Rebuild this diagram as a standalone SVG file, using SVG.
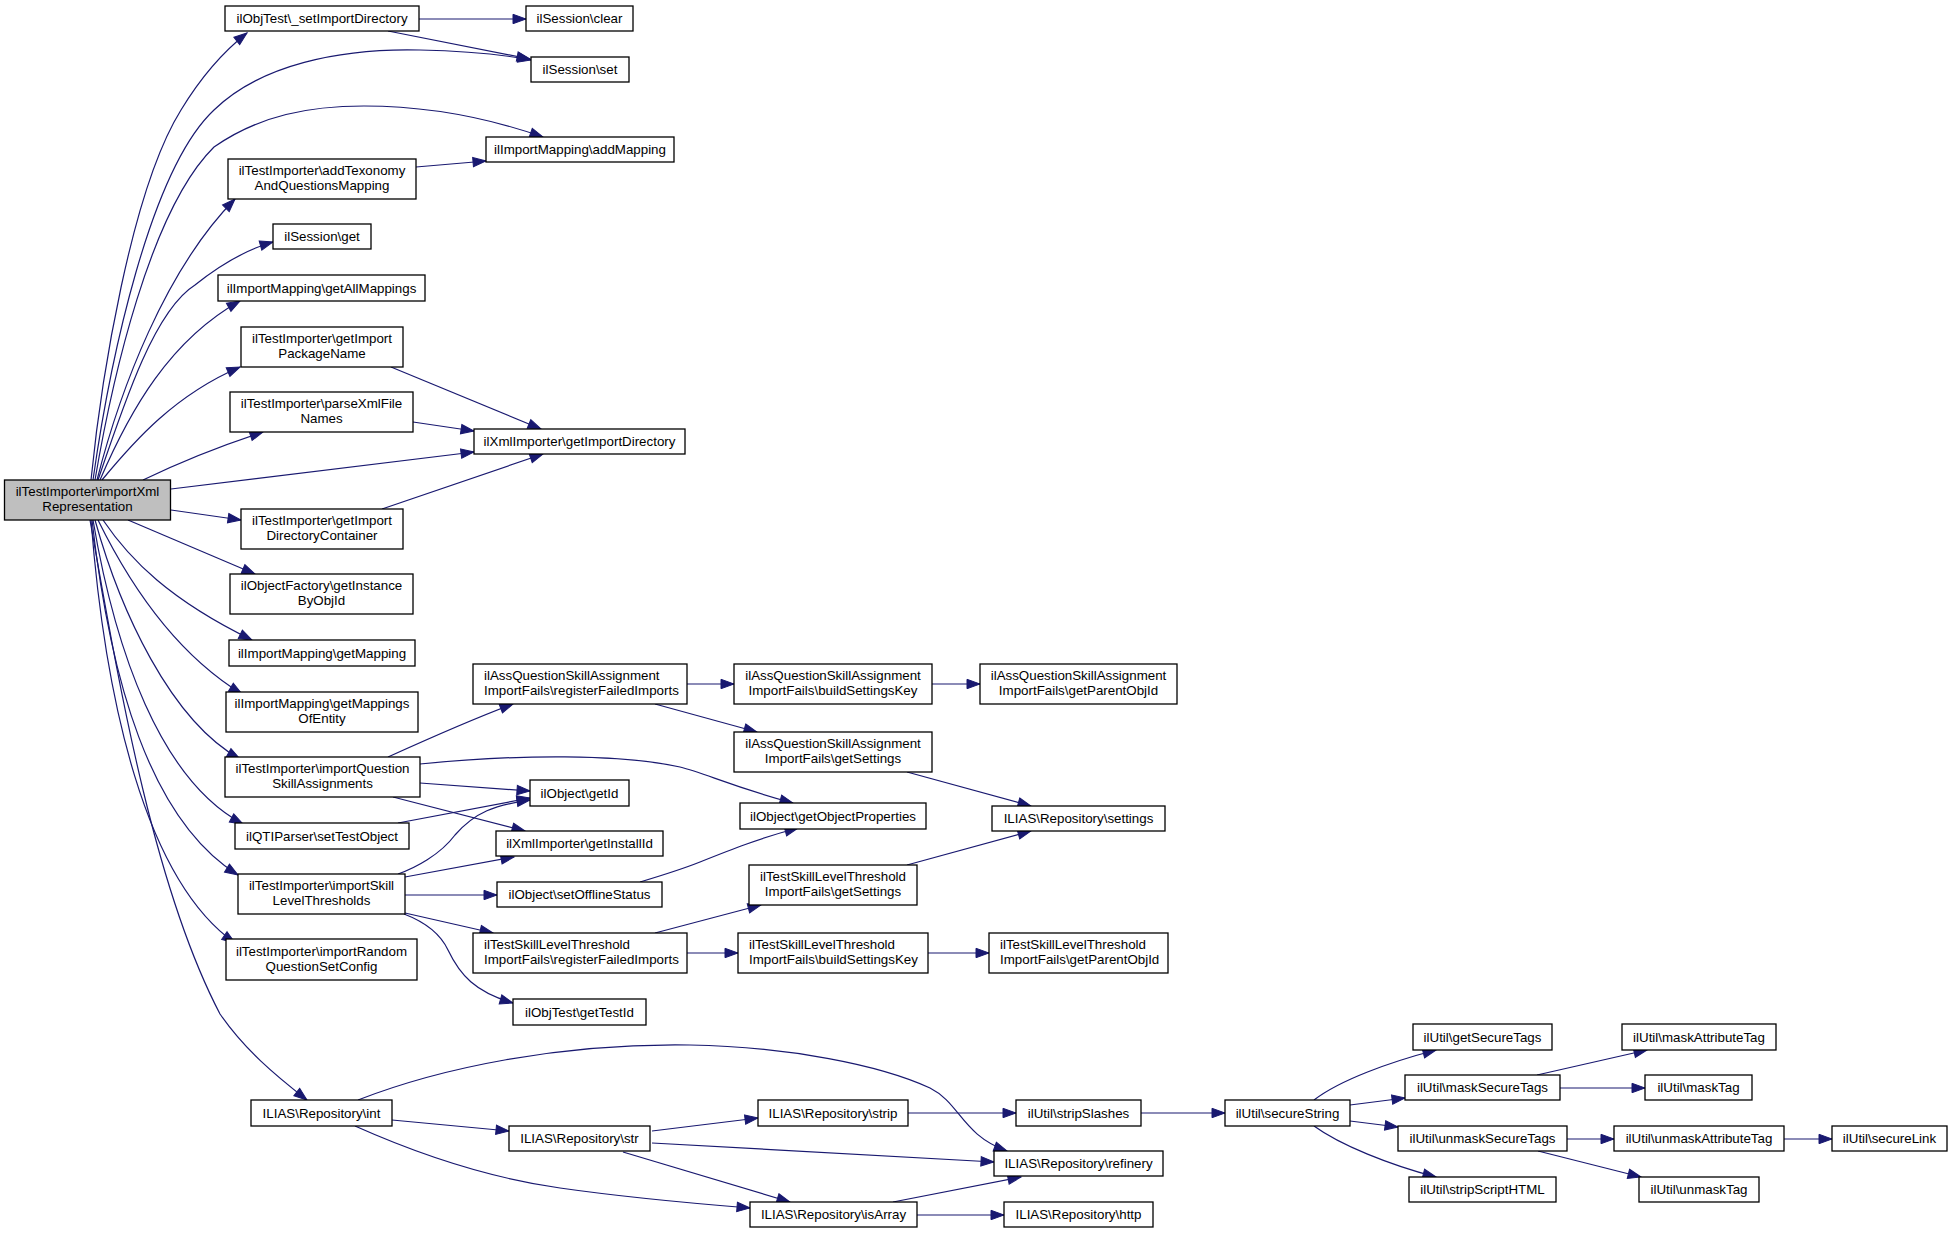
<svg xmlns="http://www.w3.org/2000/svg" width="1952" height="1233" viewBox="0 0 1952 1233">
<style>
.n rect{fill:#ffffff;stroke:#000000;stroke-width:1.3}
.n.main rect{fill:#bfbfbf}
text{font-family:"Liberation Sans",Arial,Helvetica,sans-serif;font-size:13.33px;fill:#000000}
.c{text-anchor:middle}
.l{text-anchor:start}
#edges path{fill:none;stroke:#191970;stroke-width:1.2;marker-end:url(#arr)}
</style>
<defs>
<marker id="arr" markerUnits="userSpaceOnUse" markerWidth="14" markerHeight="10" refX="13" refY="5" orient="auto" overflow="visible">
<path d="M0,0.3 L13,5 L0,9.7 Z" fill="#191970" stroke="#191970" stroke-width="1"/>
</marker>
</defs>
<rect width="1952" height="1233" fill="#ffffff"/>
<g id="edges">
<path d="M91,480 C101,380 131,190 181,110 C198,82 219,55 247,33"/>
<path d="M93,480 C110,360 150,170 214,110 C260,65 340,48 420,50 C470,51 505,55 531,60"/>
<path d="M95,480 C112,380 150,210 214,147 C260,115 310,106 364,106 C420,106 480,115 543,137"/>
<path d="M97,480 C120,390 165,270 235,199"/>
<path d="M98,480 C125,400 155,310 195,285 C220,265 245,250 273,242"/>
<path d="M100,480 C130,410 170,340 240,301"/>
<path d="M102,480 C135,440 175,395 240,367"/>
<path d="M143,480 C180,462 220,446 263,432"/>
<path d="M171,489 L474,452"/>
<path d="M171,510 L241,520"/>
<path d="M128,520 L255,574"/>
<path d="M103,520 C130,560 170,600 252,640"/>
<path d="M98,520 C125,575 170,650 242,694"/>
<path d="M95,520 C120,610 170,720 240,759"/>
<path d="M93,520 C115,650 160,780 243,824"/>
<path d="M92,520 C110,680 150,820 238,875"/>
<path d="M91,520 C105,700 145,880 235,943"/>
<path d="M90,520 C115,660 150,880 220,1014 C245,1050 275,1075 307,1100"/>
<path d="M419,19 L526,19"/>
<path d="M388,31 L530,59"/>
<path d="M416,167 L486,161"/>
<path d="M391,367 L541,429"/>
<path d="M413,422 L474,431"/>
<path d="M382,509 L543,454"/>
<path d="M388,757 C430,738 470,720 513,704"/>
<path d="M420,764 C520,754 620,754 680,767 C705,773 730,786 793,803"/>
<path d="M420,783 L530,791"/>
<path d="M393,797 L525,831"/>
<path d="M398,823 L530,798"/>
<path d="M398,874 C415,868 440,855 455,835 C475,812 495,805 530,800"/>
<path d="M405,877 L514,857"/>
<path d="M405,895 L497,895"/>
<path d="M405,913 L493,933"/>
<path d="M404,914 C425,922 440,933 448,950 C460,975 475,992 513,1003"/>
<path d="M640,882 C660,876 680,870 700,862 C730,850 760,838 798,828"/>
<path d="M687,684 L734,684"/>
<path d="M655,704 L757,732"/>
<path d="M932,684 L980,684"/>
<path d="M907,772 L1031,806"/>
<path d="M907,865 L1031,831"/>
<path d="M655,933 L761,905"/>
<path d="M687,953 L738,953"/>
<path d="M928,953 L989,953"/>
<path d="M358,1100 C440,1068 560,1043 690,1045 C790,1047 880,1065 930,1088 C960,1103 962,1135 1007,1151"/>
<path d="M392,1120 L509,1131"/>
<path d="M355,1126 C420,1155 490,1178 560,1188 C630,1198 700,1204 750,1208"/>
<path d="M652,1131 L758,1118"/>
<path d="M652,1143 L994,1162"/>
<path d="M623,1152 L790,1202"/>
<path d="M893,1202 L1021,1177"/>
<path d="M917,1215 L1004,1215"/>
<path d="M908,1113 L1016,1113"/>
<path d="M1141,1113 L1225,1113"/>
<path d="M1314,1100 C1340,1080 1390,1062 1436,1050"/>
<path d="M1350,1105 L1405,1098"/>
<path d="M1350,1121 L1398,1127"/>
<path d="M1314,1126 C1340,1145 1390,1165 1436,1177"/>
<path d="M1537,1075 L1647,1050"/>
<path d="M1560,1088 L1645,1088"/>
<path d="M1567,1139 L1614,1139"/>
<path d="M1538,1151 L1641,1177"/>
<path d="M1784,1139 L1832,1139"/>
</g>
<g id="n0" class="n main"><rect x="4.5" y="480" width="166" height="40"/><text class="c" x="87.5" y="496.4">ilTestImporter\importXml</text><text class="c" x="87.5" y="511.4">Representation</text></g>
<g id="n1" class="n"><rect x="225" y="6" width="194" height="25"/><text class="c" x="322" y="23.2">ilObjTest\_setImportDirectory</text></g>
<g id="n2" class="n"><rect x="526" y="6" width="107" height="25"/><text class="c" x="579.5" y="23.2">ilSession\clear</text></g>
<g id="n3" class="n"><rect x="531" y="57" width="98" height="25"/><text class="c" x="580" y="74.2">ilSession\set</text></g>
<g id="n4" class="n"><rect x="486" y="137" width="188" height="25"/><text class="c" x="580" y="154.2">ilImportMapping\addMapping</text></g>
<g id="n5" class="n"><rect x="228" y="159" width="188" height="40"/><text class="c" x="322" y="175.4">ilTestImporter\addTexonomy</text><text class="c" x="322" y="190.4">AndQuestionsMapping</text></g>
<g id="n6" class="n"><rect x="273" y="224" width="98" height="25"/><text class="c" x="322" y="241.2">ilSession\get</text></g>
<g id="n7" class="n"><rect x="218" y="275" width="207" height="26"/><text class="c" x="321.5" y="292.7">ilImportMapping\getAllMappings</text></g>
<g id="n8" class="n"><rect x="241" y="327" width="162" height="40"/><text class="c" x="322" y="343.4">ilTestImporter\getImport</text><text class="c" x="322" y="358.4">PackageName</text></g>
<g id="n9" class="n"><rect x="230" y="392" width="183" height="40"/><text class="c" x="321.5" y="408.4">ilTestImporter\parseXmlFile</text><text class="c" x="321.5" y="423.4">Names</text></g>
<g id="n10" class="n"><rect x="474" y="429" width="211" height="25"/><text class="c" x="579.5" y="446.2">ilXmlImporter\getImportDirectory</text></g>
<g id="n11" class="n"><rect x="241" y="509" width="162" height="40"/><text class="c" x="322" y="525.4">ilTestImporter\getImport</text><text class="c" x="322" y="540.4">DirectoryContainer</text></g>
<g id="n12" class="n"><rect x="230" y="574" width="183" height="40"/><text class="c" x="321.5" y="590.4">ilObjectFactory\getInstance</text><text class="c" x="321.5" y="605.4">ByObjId</text></g>
<g id="n13" class="n"><rect x="229" y="640" width="186" height="26"/><text class="c" x="322" y="657.7">ilImportMapping\getMapping</text></g>
<g id="n14" class="n"><rect x="226" y="692" width="192" height="40"/><text class="c" x="322" y="708.4">ilImportMapping\getMappings</text><text class="c" x="322" y="723.4">OfEntity</text></g>
<g id="n15" class="n"><rect x="473" y="664" width="214" height="40"/><text class="l" x="484" y="680.4">ilAssQuestionSkillAssignment</text><text class="l" x="484" y="695.4">ImportFails\registerFailedImports</text></g>
<g id="n16" class="n"><rect x="734" y="664" width="198" height="40"/><text class="c" x="833" y="680.4">ilAssQuestionSkillAssignment</text><text class="c" x="833" y="695.4">ImportFails\buildSettingsKey</text></g>
<g id="n17" class="n"><rect x="980" y="664" width="197" height="40"/><text class="c" x="1078.5" y="680.4">ilAssQuestionSkillAssignment</text><text class="c" x="1078.5" y="695.4">ImportFails\getParentObjId</text></g>
<g id="n18" class="n"><rect x="734" y="732" width="198" height="40"/><text class="c" x="833" y="748.4">ilAssQuestionSkillAssignment</text><text class="c" x="833" y="763.4">ImportFails\getSettings</text></g>
<g id="n19" class="n"><rect x="225" y="757" width="195" height="40"/><text class="c" x="322.5" y="773.4">ilTestImporter\importQuestion</text><text class="c" x="322.5" y="788.4">SkillAssignments</text></g>
<g id="n20" class="n"><rect x="530" y="780" width="99" height="26"/><text class="c" x="579.5" y="797.7">ilObject\getId</text></g>
<g id="n21" class="n"><rect x="740" y="803" width="186" height="26"/><text class="c" x="833" y="820.7">ilObject\getObjectProperties</text></g>
<g id="n22" class="n"><rect x="992" y="806" width="173" height="25"/><text class="c" x="1078.5" y="823.2">ILIAS\Repository\settings</text></g>
<g id="n23" class="n"><rect x="235" y="823" width="174" height="26"/><text class="c" x="322" y="840.7">ilQTIParser\setTestObject</text></g>
<g id="n24" class="n"><rect x="496" y="831" width="167" height="25"/><text class="c" x="579.5" y="848.2">ilXmlImporter\getInstallId</text></g>
<g id="n25" class="n"><rect x="238" y="874" width="167" height="40"/><text class="c" x="321.5" y="890.4">ilTestImporter\importSkill</text><text class="c" x="321.5" y="905.4">LevelThresholds</text></g>
<g id="n26" class="n"><rect x="497" y="882" width="165" height="25"/><text class="c" x="579.5" y="899.2">ilObject\setOfflineStatus</text></g>
<g id="n27" class="n"><rect x="749" y="865" width="168" height="40"/><text class="c" x="833" y="881.4">ilTestSkillLevelThreshold</text><text class="c" x="833" y="896.4">ImportFails\getSettings</text></g>
<g id="n28" class="n"><rect x="473" y="933" width="214" height="40"/><text class="l" x="484" y="949.4">ilTestSkillLevelThreshold</text><text class="l" x="484" y="964.4">ImportFails\registerFailedImports</text></g>
<g id="n29" class="n"><rect x="738" y="933" width="190" height="40"/><text class="l" x="749" y="949.4">ilTestSkillLevelThreshold</text><text class="l" x="749" y="964.4">ImportFails\buildSettingsKey</text></g>
<g id="n30" class="n"><rect x="989" y="933" width="179" height="40"/><text class="l" x="1000" y="949.4">ilTestSkillLevelThreshold</text><text class="l" x="1000" y="964.4">ImportFails\getParentObjId</text></g>
<g id="n31" class="n"><rect x="226" y="939" width="191" height="41"/><text class="c" x="321.5" y="955.9">ilTestImporter\importRandom</text><text class="c" x="321.5" y="970.9">QuestionSetConfig</text></g>
<g id="n32" class="n"><rect x="513" y="999" width="133" height="26"/><text class="c" x="579.5" y="1016.7">ilObjTest\getTestId</text></g>
<g id="n33" class="n"><rect x="251" y="1100" width="141" height="26"/><text class="c" x="321.5" y="1117.7">ILIAS\Repository\int</text></g>
<g id="n34" class="n"><rect x="509" y="1126" width="141" height="25"/><text class="c" x="579.5" y="1143.2">ILIAS\Repository\str</text></g>
<g id="n35" class="n"><rect x="758" y="1100" width="150" height="26"/><text class="c" x="833" y="1117.7">ILIAS\Repository\strip</text></g>
<g id="n36" class="n"><rect x="1016" y="1100" width="125" height="26"/><text class="c" x="1078.5" y="1117.7">ilUtil\stripSlashes</text></g>
<g id="n37" class="n"><rect x="1225" y="1100" width="125" height="26"/><text class="c" x="1287.5" y="1117.7">ilUtil\secureString</text></g>
<g id="n38" class="n"><rect x="1413" y="1024" width="139" height="26"/><text class="c" x="1482.5" y="1041.7">ilUtil\getSecureTags</text></g>
<g id="n39" class="n"><rect x="1622" y="1024" width="154" height="26"/><text class="c" x="1699" y="1041.7">ilUtil\maskAttributeTag</text></g>
<g id="n40" class="n"><rect x="1405" y="1075" width="155" height="25"/><text class="c" x="1482.5" y="1092.2">ilUtil\maskSecureTags</text></g>
<g id="n41" class="n"><rect x="1645" y="1075" width="107" height="25"/><text class="c" x="1698.5" y="1092.2">ilUtil\maskTag</text></g>
<g id="n42" class="n"><rect x="1398" y="1126" width="169" height="25"/><text class="c" x="1482.5" y="1143.2">ilUtil\unmaskSecureTags</text></g>
<g id="n43" class="n"><rect x="1614" y="1126" width="170" height="25"/><text class="c" x="1699" y="1143.2">ilUtil\unmaskAttributeTag</text></g>
<g id="n44" class="n"><rect x="1832" y="1126" width="115" height="25"/><text class="c" x="1889.5" y="1143.2">ilUtil\secureLink</text></g>
<g id="n45" class="n"><rect x="1409" y="1177" width="147" height="25"/><text class="c" x="1482.5" y="1194.2">ilUtil\stripScriptHTML</text></g>
<g id="n46" class="n"><rect x="1639" y="1177" width="120" height="25"/><text class="c" x="1699" y="1194.2">ilUtil\unmaskTag</text></g>
<g id="n47" class="n"><rect x="994" y="1151" width="169" height="25"/><text class="c" x="1078.5" y="1168.2">ILIAS\Repository\refinery</text></g>
<g id="n48" class="n"><rect x="750" y="1202" width="167" height="25"/><text class="c" x="833.5" y="1219.2">ILIAS\Repository\isArray</text></g>
<g id="n49" class="n"><rect x="1004" y="1202" width="149" height="25"/><text class="c" x="1078.5" y="1219.2">ILIAS\Repository\http</text></g>
</svg>
